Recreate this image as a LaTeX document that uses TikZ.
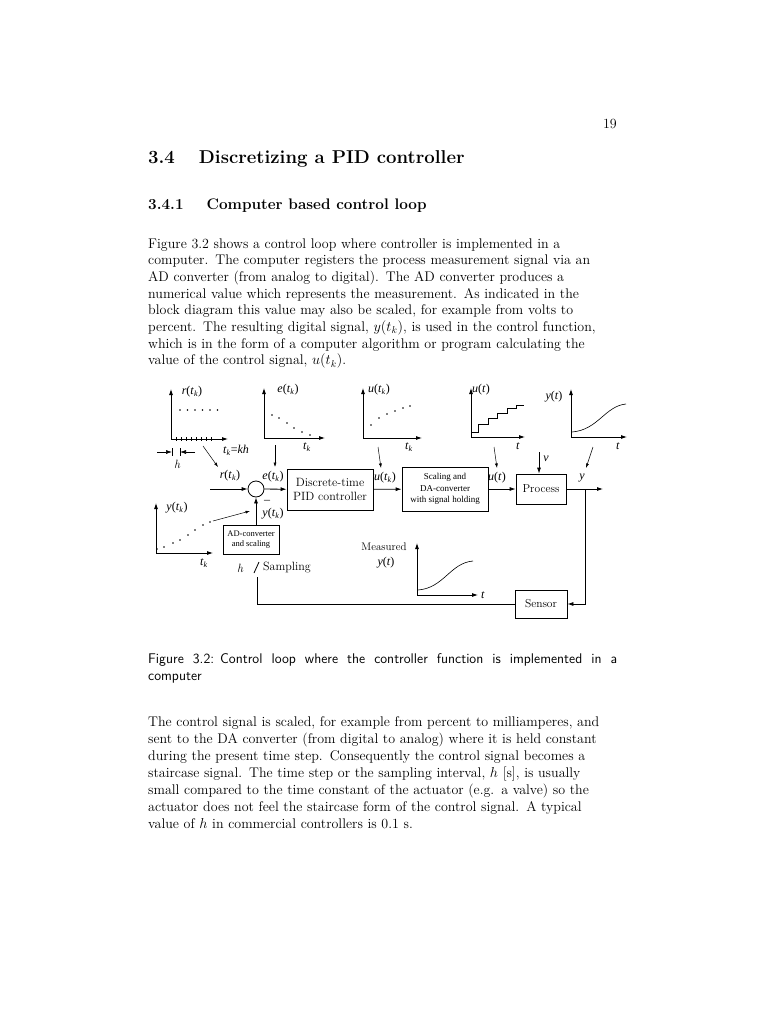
\documentclass[tikz,border=0pt]{standalone}
\usepackage{fontspec}
\newfontfamily\tms{Liberation Serif}
\usetikzlibrary{arrows.meta}
\newcommand{\tk}{(\textit{t}\textsubscript{\textit{k}})}

\begin{document}
\begin{tikzpicture}[x=1pt, y=-1pt, >={Latex[length=6pt,width=4pt]},
  blk/.style={draw, line width=0.8pt, align=center, inner sep=1pt},
  lbl/.style={font=\tms\fontsize{12}{13}\selectfont, inner sep=0pt},
  lmtxt/.style={font=\fontsize{12}{13}\selectfont, inner sep=0pt},
  sig/.style={line width=0.8pt},
  pnt/.style={->, line width=0.5pt, >={Latex[length=4.5pt,width=3pt]}},
  para/.style={anchor=base west, inner sep=0pt, text width=540pt, align=left, font=\fontsize{14}{16.7}\selectfont}]
\useasboundingbox[fill=white] (0,0) rectangle (768,1024);

% page text
\node[anchor=base east, inner sep=0pt, font=\fontsize{14}{16}\selectfont] (pagenum) at (617,129) {19};
\node[anchor=base west, inner sep=0pt, font=\fontsize{18.6}{22}\selectfont\bfseries] (sec) at (148,164) {3.4\hspace{24pt}Discretizing a PID controller};
\node[anchor=base west, inner sep=0pt, font=\fontsize{15.3}{18}\selectfont\bfseries] (subsec) at (148,210) {3.4.1\hspace{23pt}Computer based control loop};
\node[para] (par1) at (148,248) {Figure 3.2 shows a control loop where controller is implemented in a\\
computer. The computer registers the process measurement signal via an\\
AD converter (from analog to digital). The AD converter produces a\\
numerical value which represents the measurement. As indicated in the\\
block diagram this value may also be scaled, for example from volts to\\
percent. The resulting digital signal, $y(t_k)$, is used in the control function,\\
which is in the form of a computer algorithm or program calculating the\\
value of the control signal, $u(t_k)$.};

% signal plots
\draw[->, sig] (171,439) -- (171,389);
\draw[->, sig] (171,439) -- (228,439);
\foreach \x in {176,181,...,211} \draw[line width=0.5pt] (\x,437) -- (\x,441);
\foreach \x in {180,187.5,...,218} \fill (\x,410) circle (0.9);
\node[lbl] (lr) at (192,392) {\textit{r}\tk};
\node[lbl] (ltk1) at (236,450) {\textit{t}\textsubscript{\textit{k}}=\textit{kh}};
\coordinate (ha) at (157,452); \coordinate (hb) at (172,452);
\coordinate (hc) at (195,452); \coordinate (hd) at (180,452);
\draw[->, line width=0.6pt] (ha) -- (hb);
\draw[->, line width=0.6pt] (hc) -- (hd);
\draw[line width=0.6pt] (172,448) -- (172,456) (180,448) -- (180,456);
\node[lmtxt, font=\fontsize{12}{13}\selectfont\itshape] (lh) at (177,464) {h};

\draw[->, sig] (264,438) -- (264,388);
\draw[->, sig] (264,438) -- (325,438);
\foreach \x/\y in {272/415,279/418,287/423,294/428,302/432,310/435} \fill (\x,\y) circle (0.9);
\node[lbl] (le) at (288,390) {\textit{e}\tk};
\node[lbl] (ltk2) at (307,447) {\textit{t}\textsubscript{\textit{k}}};

\draw[->, sig] (363,438) -- (363,388);
\draw[->, sig] (363,438) -- (422,438);
\foreach \x/\y in {371/425,379/418,387/414,395/411,403/408,410/406} \fill (\x,\y) circle (0.9);
\node[lbl] (luk) at (379,390) {\textit{u}\tk};
\node[lbl] (ltk3) at (409,447) {\textit{t}\textsubscript{\textit{k}}};

\draw[->, sig] (471,437) -- (471,388);
\draw[->, sig] (471,437) -- (525,437);
\draw[sig] (471,432) -- (478,432) -- (478,424) -- (488,424) -- (488,418) -- (497,418)
  -- (497,413) -- (507,413) -- (507,408) -- (516,408) -- (516,405) -- (524,405);
\node[lbl] (lut) at (481,390) {\textit{u}(\textit{t})};
\node[lbl] (lt4) at (518,446) {\textit{t}};

\draw[->, sig] (571,437) -- (571,389);
\draw[->, sig] (571,437) -- (627,437);
\draw[line width=0.6pt] (572,432) .. controls (598,430) and (605,406) .. (626,404);
\node[lbl] (lyt) at (554,397) {\textit{y}(\textit{t})};
\node[lbl] (lt5) at (618,446) {\textit{t}};

\draw[->, sig] (156,553) -- (156,503);
\draw[->, sig] (156,553) -- (213,553);
\foreach \x/\y in {157/549,164/547,173/543,180/540,188/535,195/530,203/525,210/522} \fill (\x,\y) circle (0.9);
\node[lbl] (lyk) at (177,508) {\textit{y}\tk};
\node[lbl] (ltk6) at (204,563) {\textit{t}\textsubscript{\textit{k}}};

\draw[->, sig] (417,595) -- (417,543);
\draw[->, sig] (417,595) -- (478,595);
\draw[line width=0.6pt] (418,590) .. controls (444,588) and (450,563) .. (473,561);
\node[lbl] (lt7) at (483,595) {\textit{t}};
\node[lmtxt, font=\fontsize{11}{12}\selectfont] (lmeas) at (384,547) {Measured};
\node[lbl] (lym) at (386,563) {\textit{y}(\textit{t})};

% blocks
\node[draw, circle, minimum size=16pt, inner sep=0pt, line width=0.8pt] (sum) at (256,489) {};
\node[blk, minimum width=86pt, minimum height=41pt, font=\fontsize{12}{14}\selectfont] (pid) at (330,489.5) {Discrete-time\\PID controller};
\node[blk, minimum width=86pt, minimum height=44pt, font=\tms\fontsize{9}{11.5}\selectfont] (da) at (445,489) {Scaling and\\DA-converter\\with signal holding};
\node[blk, minimum width=50pt, minimum height=30pt, font=\fontsize{11.5}{13}\selectfont] (proc) at (541,489) {Process};
\node[blk, minimum width=52pt, minimum height=28pt, font=\fontsize{11.5}{13}\selectfont] (sens) at (541,604) {Sensor};
\node[blk, minimum width=56pt, minimum height=29pt, font=\tms\fontsize{8.5}{10}\selectfont] (ad) at (251,539.5) {AD-converter\\and scaling};

% loop connections
\coordinate (rin) at (210,489);
\coordinate (yout) at (603,489);
\coordinate (br) at (585,489);
\coordinate (vin) at (539,452);
\coordinate (swlow) at (257,577);
\coordinate (swa) at (254,573);
\coordinate (swb) at (259,562);
\draw[->, sig] (rin) -- (sum);
\draw[->, sig] (sum) -- (pid);
\draw[->, sig] (pid) -- (da);
\draw[->, sig] (da) -- (proc);
\draw[->, sig] (proc) -- (yout);
\draw[->, sig] (br) |- (sens);
\draw[sig] (sens) -| (swlow);
\draw[sig] (swa) -- (swb);
\draw[->, sig] (ad.north -| sum) -- (sum);
\draw[->, sig] (vin) -- (vin |- proc.north);

% line labels
\node[lbl] (lrin) at (230,476) {\textit{r}\tk};
\node[lbl] (lein) at (273,477) {\textit{e}\tk};
\node[lbl] (lukin) at (385,478) {\textit{u}\tk};
\node[lbl] (lutin) at (497,478) {\textit{u}(\textit{t})};
\node[lbl] (ly) at (582,478) {\textit{y}};
\node[lbl] (lv) at (546,459) {\textit{v}};
\node[lbl] (lminus) at (267,502) {\textendash};
\node[lbl] (lykin) at (273,514) {\textit{y}\tk};
\node[lmtxt, font=\fontsize{12}{13}\selectfont\itshape] (lhs) at (240,568) {h};
\node[lmtxt, anchor=west] (lsamp) at (263,568) {Sampling};

% pointers from plots
\coordinate (p1a) at (203,446); \coordinate (p1b) at (218,467);
\coordinate (p2a) at (275,445); \coordinate (p2b) at (275,467);
\coordinate (p3a) at (378,447); \coordinate (p3b) at (381,468);
\coordinate (p4a) at (494,447); \coordinate (p4b) at (497,468);
\coordinate (p5a) at (593,447); \coordinate (p5b) at (586,468);
\coordinate (p6a) at (213,521); \coordinate (p6b) at (250,511);
\foreach \n in {1,...,6} \draw[pnt] (p\n a) -- (p\n b);

% caption and text
\node[anchor=base west, inner sep=0pt, text width=469pt, align=justify, font=\fontsize{14}{17}\selectfont\sffamily] (cap) at (148,663) {Figure 3.2:\hspace{6pt}Control loop where the controller function is implemented in a\linebreak computer};
\node[para, font=\fontsize{14}{17}\selectfont] (par2) at (148,726) {The control signal is scaled, for example from percent to milliamperes, and\\
sent to the DA converter (from digital to analog) where it is held constant\\
during the present time step. Consequently the control signal becomes a\\
staircase signal. The time step or the sampling interval, $h$ [s], is usually\\
small compared to the time constant of the actuator (e.g. a valve) so the\\
actuator does not feel the staircase form of the control signal. A typical\\
value of $h$ in commercial controllers is 0.1 s.};
\end{tikzpicture}
\end{document}
